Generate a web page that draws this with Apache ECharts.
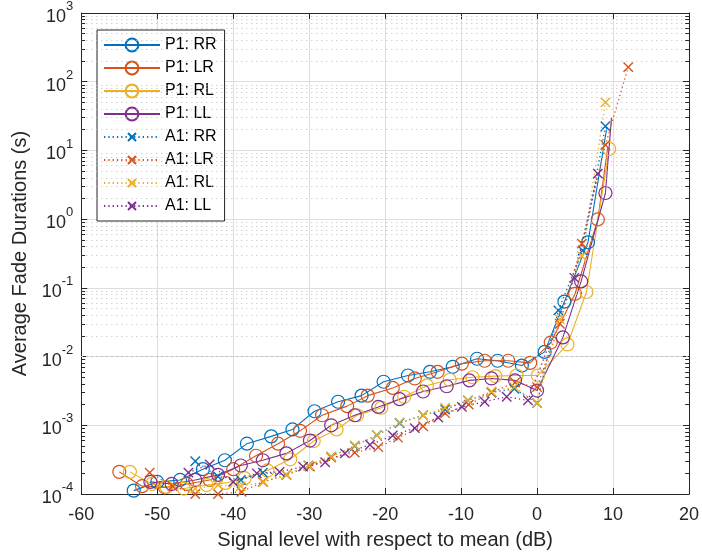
<!DOCTYPE html>
<html>
<head>
<meta charset="utf-8">
<script src="https://cdn.jsdelivr.net/npm/echarts@6/dist/echarts.min.js"></script>
<style>
  html, body { margin: 0; padding: 0; background: #fff; }
  #chart { width: 702px; height: 555px; }
</style>
</head>
<body>
<div id="chart"></div>
<script>
// ---- data: [signal level (dB), average fade duration (s)] ----
const seriesNames = ['P1: RR', 'P1: LR', 'P1: RL', 'P1: LL', 'A1: RR', 'A1: LR', 'A1: RL', 'A1: LL'];

const p1RR = [[-53.1,1.12e-4],[-50.0,1.5e-4],[-47.0,1.6e-4],[-44.0,2.3e-4],[-41.1,3.1e-4],[-38.2,5.4e-4],
  [-35.0,6.9e-4],[-32.2,8.7e-4],[-29.3,1.6e-3],[-26.2,2.2e-3],[-23.1,2.7e-3],[-20.2,4.3e-3],[-17.0,5.3e-3],
  [-14.1,6.0e-3],[-11.1,7.1e-3],[-7.9,9.3e-3],[-5.2,8.7e-3],[-2.0,7.4e-3],[1.0,1.17e-2],[3.6,6.3e-2],[6.7,0.46]];
const p1RRTail = [[9.2,22]];

const p1LR = [[-55.0,2.1e-4],[-52.0,1.3e-4],[-49.0,1.25e-4],[-46.1,1.4e-4],[-43.1,1.6e-4],[-40.0,2.3e-4],
  [-37.0,3.6e-4],[-34.1,5.4e-4],[-31.2,8.3e-4],[-28.3,1.4e-3],[-25.0,1.9e-3],[-22.3,2.7e-3],[-19.0,3.5e-3],
  [-16.1,4.8e-3],[-13.1,6.0e-3],[-9.9,7.9e-3],[-6.9,8.7e-3],[-3.8,8.7e-3],[-0.9,8.1e-3],[1.8,1.6e-2],
  [5.0,8.2e-2],[8.0,0.99]];
const p1LRTail = [[9.3,11]];

const p1RL = [[-53.6,2.1e-4],[-50.7,1.4e-4],[-48.8,1.27e-4],[-46.5,1.2e-4],[-43.5,1.35e-4],[-41.0,1.45e-4],
  [-38.5,1.7e-4],[-35.5,2.2e-4],[-32.5,3.2e-4],[-29.4,5.9e-4],[-26.4,8.7e-4],[-23.7,1.4e-3],[-20.5,1.8e-3],
  [-17.5,2.6e-3],[-14.5,3.8e-3],[-11.5,4.6e-3],[-8.5,5.0e-3],[-5.5,5.2e-3],[-2.7,5.3e-3],[0.1,5.3e-3],
  [4.0,1.5e-2],[6.5,8.7e-2],[9.5,10.5]];
const p1RLTail = [];

const p1LL = [[-50.9,1.5e-4],[-48.1,1.4e-4],[-45.0,1.6e-4],[-42.0,1.9e-4],[-39.0,2.6e-4],[-36.1,3.1e-4],
  [-33.0,3.9e-4],[-29.9,6.0e-4],[-27.1,1.0e-3],[-24.0,1.4e-3],[-20.9,1.85e-3],[-18.1,2.4e-3],[-15.0,3.1e-3],
  [-11.9,3.7e-3],[-8.9,4.5e-3],[-6.0,4.8e-3],[-2.9,4.5e-3],[0.0,3.2e-3],[3.4,1.9e-2],[5.8,0.124],[9.0,2.4]];
const p1LLTail = [[9.8,30]];

const a1RR = [[-45.0,3.0e-4],[-42.0,1.8e-4],[-39.0,1.6e-4],[-36.1,2.05e-4],[-33.0,1.9e-4],[-30.1,2.6e-4],
  [-27.1,3.5e-4],[-24.0,5.0e-4],[-21.1,7.2e-4],[-18.1,1.08e-3],[-15.0,1.4e-3],[-12.1,1.7e-3],[-9.1,2.3e-3],
  [-6.0,3.0e-3],[-3.0,3.4e-3],[0.0,2.1e-3],[2.8,4.7e-2],[6.0,0.35],[9.0,22.5]];

const a1LR = [[-51.0,2.05e-4],[-48.0,1.3e-4],[-45.0,1.0e-4],[-42.0,1.0e-4],[-38.9,1.08e-4],[-36.1,1.5e-4],
  [-33.0,1.9e-4],[-29.9,2.5e-4],[-27.1,3.4e-4],[-24.0,4.0e-4],[-20.9,4.8e-4],[-18.3,6.6e-4],[-15.0,9.7e-4],
  [-12.1,1.5e-3],[-9.0,2.0e-3],[-6.0,3.0e-3],[-2.9,4.2e-3],[0.0,3.6e-3],[3.0,3.0e-2],[5.9,0.44],[9.0,12],
  [12.0,163]];

const a1RL = [[-45.0,1.2e-4],[-42.0,1.35e-4],[-39.0,1.3e-4],[-36.0,1.5e-4],[-33.0,1.9e-4],[-30.1,2.6e-4],
  [-27.1,3.5e-4],[-24.0,5.1e-4],[-21.1,7.2e-4],[-18.1,1.1e-3],[-15.0,1.4e-3],[-12.1,1.8e-3],[-9.1,2.3e-3],
  [-6.0,3.1e-3],[-3.0,3.6e-3],[0.0,2.1e-3],[3.0,3.5e-2],[5.9,0.29],[9.0,50]];

const a1LL = [[-45.9,2.05e-4],[-43.1,2.7e-4],[-40.0,1.5e-4],[-36.9,2.0e-4],[-33.9,2.1e-4],[-30.8,2.5e-4],
  [-27.9,2.9e-4],[-25.3,3.9e-4],[-22.0,5.2e-4],[-19.0,7.1e-4],[-16.1,9.1e-4],[-13.0,1.3e-3],[-9.9,1.85e-3],
  [-6.9,2.2e-3],[-4.0,2.6e-3],[-1.2,2.3e-3],[4.9,0.14],[8.0,4.6]];

// axis ranges
const xRange = [-60, 20];
const xStep = 10;
const yRange = [1e-4, 1e3];
const minorFactors = [2, 3, 4, 5, 6, 7, 8, 9];

// ---- styling ----
const FONT = "'Liberation Sans', Arial, Helvetica, sans-serif";
const INK = '#262626';
const C = { RR: '#0072BD', LR: '#D95319', RL: '#EDB120', LL: '#7E2F8E' };
// cross marker with empty margin around it (zero-length corner strokes set the bounding box)
const CROSS = 'path://M0,0L0,0M3,3L13,13M13,3L3,13M16,16L16,16';

function solidSeries(name, color, pts, tail) {
  const data = pts.map(p => ({ value: p }));
  tail.forEach(p => data.push({ value: p, symbol: 'none' }));
  return {
    name, type: 'line', data, z: 3,
    symbol: 'circle', symbolSize: 13,
    lineStyle: { color, width: 1.1 },
    itemStyle: { color: 'rgba(0,0,0,0)', borderColor: color, borderWidth: 1.2 },
    emphasis: { disabled: true }
  };
}
function dottedSeries(name, color, pts) {
  return {
    name, type: 'line', data: pts, z: 4,
    symbol: CROSS, symbolSize: 15,
    lineStyle: { color, width: 1.3, type: [1.3, 3] },
    itemStyle: { color: 'rgba(0,0,0,0)', borderColor: color, borderWidth: 1.4 },
    emphasis: { disabled: true }
  };
}

// log-spaced minor grid lines and minor tick marks on both vertical edges
const minorVals = [];
const e0 = Math.round(Math.log10(yRange[0])), e1 = Math.round(Math.log10(yRange[1]));
for (let e = e0; e < e1; e++) minorFactors.forEach(k => minorVals.push(+(k * Math.pow(10, e)).toPrecision(3)));

const gridMarks = minorVals.map(v => ({ yAxis: v }));
const tickMarks = [];
minorVals.forEach(v => {
  tickMarks.push([{ coord: [xRange[0], v] }, { coord: [xRange[0] + 0.5, v] }]);
  tickMarks.push([{ coord: [xRange[1] - 0.5, v] }, { coord: [xRange[1], v] }]);
});

const helper = {
  type: 'line', data: [], z: 1, silent: true,
  markLine: {
    silent: true, animation: false, symbol: ['none', 'none'], label: { show: false },
    lineStyle: { color: '#bcbcbc', width: 1, type: [1, 4] },
    emphasis: { disabled: true },
    data: gridMarks
  }
};
const tickHelper = {
  type: 'line', data: [], z: 5, silent: true,
  markLine: {
    silent: true, animation: false, symbol: ['none', 'none'], label: { show: false },
    lineStyle: { color: INK, width: 1, type: 'solid' },
    emphasis: { disabled: true },
    data: tickMarks
  }
};

const yLabel = v => '{b|10}{s|' + Math.round(Math.log10(v)) + '}';

const axisLine = { show: true, onZero: false, lineStyle: { color: INK, width: 1 } };
const tickIn = { show: true, inside: true, length: 6, lineStyle: { color: INK, width: 1 } };

const option = {
  animation: false,
  backgroundColor: '#fff',
  textStyle: { fontFamily: FONT },
  grid: { left: 81.3, right: 12.7, top: 13, bottom: 58.5, containLabel: false },
  legend: {
    data: seriesNames,
    orient: 'vertical', left: 97, top: 30,
    itemWidth: 56, itemHeight: 16, itemGap: 7,
    padding: [7, 8, 7, 6],
    backgroundColor: '#fff', borderColor: INK, borderWidth: 1,
    textStyle: { fontSize: 16, color: '#000', fontFamily: FONT },
    selectedMode: false
  },
  xAxis: [
    {
      type: 'value', min: xRange[0], max: xRange[1], interval: xStep, position: 'bottom',
      axisLine, axisTick: tickIn,
      axisLabel: { fontSize: 18, color: INK, margin: 12, fontFamily: FONT },
      splitLine: { show: true, lineStyle: { color: '#dedede', width: 1 } },
      name: 'Signal level with respect to mean (dB)', nameLocation: 'middle', nameGap: 36,
      nameTextStyle: { fontSize: 20, color: INK, fontFamily: FONT }
    },
    {
      type: 'value', min: xRange[0], max: xRange[1], interval: xStep, position: 'top',
      axisLine, axisTick: tickIn, axisLabel: { show: false }, splitLine: { show: false }
    }
  ],
  yAxis: [
    {
      type: 'log', logBase: 10, min: yRange[0], max: yRange[1], splitNumber: 7, position: 'left',
      axisLine, axisTick: tickIn,
      axisLabel: {
        formatter: yLabel, margin: 8,
        rich: {
          b: { fontSize: 18, color: INK, fontFamily: FONT, lineHeight: 26, verticalAlign: 'bottom' },
          s: { fontSize: 13, color: INK, fontFamily: FONT, lineHeight: 26, verticalAlign: 'top' }
        }
      },
      splitLine: { show: true, lineStyle: { color: '#dedede', width: 1 } },
      name: 'Average Fade Durations (s)', nameLocation: 'middle', nameGap: 50,
      nameTextStyle: { fontSize: 20, color: INK, fontFamily: FONT }
    },
    {
      type: 'log', logBase: 10, min: yRange[0], max: yRange[1], splitNumber: 7, position: 'right',
      axisLine, axisTick: tickIn, axisLabel: { show: false }, splitLine: { show: false }
    }
  ],
  series: [
    helper,
    solidSeries('P1: RR', C.RR, p1RR, p1RRTail),
    solidSeries('P1: LR', C.LR, p1LR, p1LRTail),
    solidSeries('P1: RL', C.RL, p1RL, p1RLTail),
    solidSeries('P1: LL', C.LL, p1LL, p1LLTail),
    dottedSeries('A1: RR', C.RR, a1RR),
    dottedSeries('A1: LR', C.LR, a1LR),
    dottedSeries('A1: RL', C.RL, a1RL),
    dottedSeries('A1: LL', C.LL, a1LL),
    tickHelper
  ]
};

const chart = echarts.init(document.getElementById('chart'), null, { renderer: 'canvas' });
chart.setOption(option);
</script>
</body>
</html>
